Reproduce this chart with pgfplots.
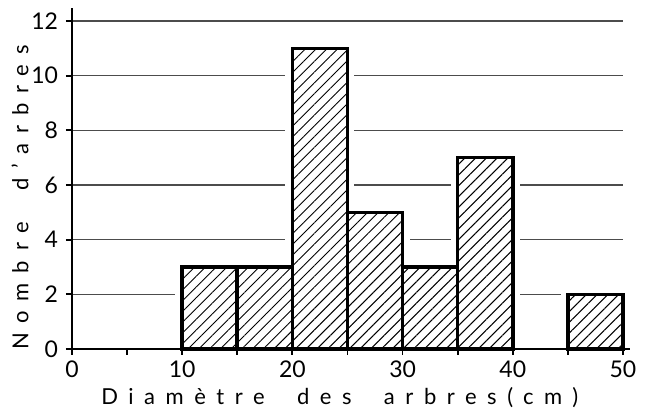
\documentclass[border=0pt]{standalone}
\usepackage{fontspec}
\setmainfont{Lato}
\usepackage{pgfplots}
\pgfplotsset{compat=1.18}
\usetikzlibrary{patterns.meta}
\pgfplotsset{layers/mylayers/.define layer set={axis background,axis grid,main,axis ticks,axis lines,axis tick labels,axis descriptions,axis foreground}{
  grid style={/pgfplots/on layer=axis grid},
  tick style={/pgfplots/on layer=axis ticks},
  axis line style={/pgfplots/on layer=axis lines},
  label style={/pgfplots/on layer=axis descriptions},
  ticklabel style={/pgfplots/on layer=axis tick labels},
}}
\begin{document}
\fontsize{11.5}{13}\selectfont
\begin{tikzpicture}
\begin{axis}[
  set layers=mylayers,
  scale only axis, width=275.5pt, height=164pt,
  xmin=0, xmax=50, ymin=0, ymax=12,
  axis x line=bottom, axis y line=left,
  x axis line style={-, line width=1.1pt, shorten >=-3.3pt},
  y axis line style={-, line width=1.1pt, shorten >=-6.5pt},
  xtick={0,5,...,50}, xticklabels={0,,10,,20,,30,,40,,50},
  ytick={0,2,...,12},
  tick style={black, line width=0.9pt},
  tick align=outside, major tick length=3pt,
  ymajorgrids, grid style={line width=0.6pt, black!70},
  clip=false,
  /pgf/number format/assume math mode=true,
  xticklabel style={yshift=1pt},
  xlabel={\addfontfeature{LetterSpace=48}Diamètre\ \ des\ \ arbres(cm)},
  ylabel={\addfontfeature{LetterSpace=45}Nombre\ \ d'arbres},
  xlabel style={font=\fontsize{11}{13}\selectfont, at={(axis description cs:0.486,-0.148)}, anchor=center},
  ylabel style={font=\fontsize{11}{13}\selectfont, at={(axis description cs:-0.0944,0.462)}, anchor=center},
]
% white halo behind bars
\addplot[ybar interval, fill=white, draw=white, line width=7pt] coordinates {(10,3)(15,3)(20,11)(25,5)(30,3)(35,7)(40,7)};
\addplot[ybar interval, fill=white, draw=white, line width=7pt] coordinates {(45,2)(50,2)};
% hatched bars
\addplot[ybar interval, draw=black, line width=1.8pt, pattern={Lines[angle=45,distance=3.8pt,line width=0.5pt]}] coordinates {(10,3)(15,3)(20,11)(25,5)(30,3)(35,7)(40,7)};
\addplot[ybar interval, draw=black, line width=1.8pt, pattern={Lines[angle=45,distance=3.8pt,line width=0.5pt]}] coordinates {(45,2)(50,2)};
\end{axis}
\pgfresetboundingbox
\useasboundingbox (-36pt,-29.5pt) rectangle (286.5pt,174.5pt);
\end{tikzpicture}
\end{document}
